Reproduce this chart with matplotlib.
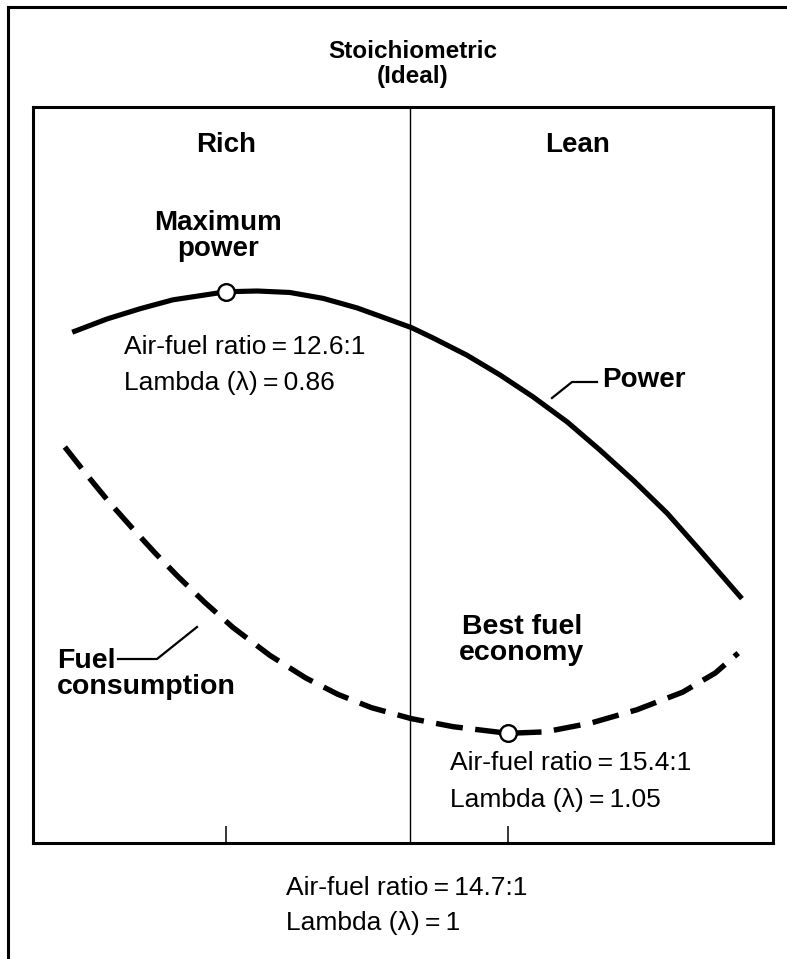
import matplotlib
matplotlib.use("Agg")
import matplotlib.pyplot as plt
from matplotlib.lines import Line2D

plt.rcParams["font.family"] = ["Liberation Sans", "DejaVu Sans"]

W, H = 787, 959

# Relative position across the mixture range (0 = richest, 100 = leanest)
power_x = [5.3, 10.0, 14.5, 18.9, 23.5, 26.1, 30.3, 34.7, 39.2, 43.8, 48.2, 51.2,
           54.1, 58.6, 63.1, 67.6, 72.2, 76.6, 81.1, 85.7, 90.1, 95.8]
# Relative engine power
power_y = [69.4, 71.2, 72.6, 73.8, 74.5, 74.9, 75.0, 74.8, 74.0, 72.7, 71.1, 70.0,
           68.6, 66.3, 63.6, 60.6, 57.2, 53.4, 49.3, 44.8, 39.8, 33.2]

fuel_x = [4.3, 7.2, 10.3, 13.4, 16.5, 19.6, 23.2, 27.0, 32.0, 36.9, 41.2, 45.7,
          51.1, 56.8, 64.2, 69.2, 75.4, 81.6, 87.8, 92.2, 95.3]
# Relative fuel consumption
fuel_y = [53.8, 50.1, 46.3, 42.8, 39.4, 36.2, 32.7, 29.3, 25.5, 22.4, 20.2, 18.4,
          16.9, 15.8, 14.9, 15.1, 16.3, 18.1, 20.5, 23.1, 25.8]

max_power_pt = (26.1, 74.9)     # AFR 12.6:1, lambda 0.86
best_economy_pt = (64.2, 14.9)  # AFR 15.4:1, lambda 1.05
stoich_x = 50.9                 # AFR 14.7:1, lambda 1

tick_positions = [max_power_pt[0], best_economy_pt[0]]
tick_labels = ["", ""]

fig = plt.figure(figsize=(W / 100, H / 100), dpi=100)
fig.patch.set_facecolor("white")

# Plot frame
left, right, top, bottom = 33, 773, 107, 843
ax = fig.add_axes([left / W, 1 - bottom / H, (right - left) / W, (bottom - top) / H])
ax.set_xlim(0, 100)
ax.set_ylim(0, 100)
for s in ax.spines.values():
    s.set_linewidth(2.2)
ax.set_yticks([])
ax.set_xticks(tick_positions)
ax.set_xticklabels(tick_labels)
ax.tick_params(axis="x", direction="in", length=12, width=1.1, color="black")

ax.axvline(stoich_x, color="black", lw=1.0)

ax.plot(power_x, power_y, color="black", lw=3.7, solid_capstyle="butt",
        solid_joinstyle="round")
ax.plot(fuel_x, fuel_y, color="black", lw=3.9, dashes=(5.0, 2.3),
        dash_capstyle="butt", dash_joinstyle="round")

for pt in (max_power_pt, best_economy_pt):
    ax.plot(*pt, marker="o", ms=12, mfc="white", mec="black", mew=1.7, zorder=5)


def fig_xy(x, y):
    return x / W, 1 - y / H


def put(x, y, s, size, weight="normal", ha="center", va="center", ls=1.2):
    fx, fy = fig_xy(x, y)
    fig.text(fx, fy, s, fontsize=size, fontweight=weight, ha=ha, va=va,
             linespacing=ls, color="black")


# Outer border (left and top edges)
fig.add_artist(Line2D([8 / W, 8 / W], [0, 1 - 7 / H], transform=fig.transFigure,
                      color="black", lw=2.2))
fig.add_artist(Line2D([8 / W, 1], [1 - 7 / H, 1 - 7 / H], transform=fig.transFigure,
                      color="black", lw=2.2))

EQ = "\u2009=\u2009"

put(413, 64, "Stoichiometric\n(Ideal)", 17.5, "bold", ls=1.15)
put(226, 145, "Rich", 20, "bold")
put(578, 145, "Lean", 20, "bold")

put(218, 236, "Maximum\npower", 20, "bold", ls=1.05)
put(124, 347, "Air-fuel ratio" + EQ + "12.6:1", 19, ha="left")
put(124, 383, "Lambda (λ)" + EQ + "0.86", 19, ha="left")

put(602, 380, "Power", 20, "bold", ha="left")
fig.add_artist(Line2D([552 / W, 572 / W, 597 / W],
                      [1 - 398 / H, 1 - 382 / H, 1 - 382 / H],
                      transform=fig.transFigure, color="black", lw=1.6))

put(522, 640, "Best fuel\neconomy", 20.5, "bold", ls=1.05)
put(450, 763, "Air-fuel ratio" + EQ + "15.4:1", 19, ha="left")
put(450, 800, "Lambda (λ)" + EQ + "1.05", 19, ha="left")

put(57, 674, "Fuel\nconsumption", 20.5, "bold", ha="left", ls=1.05)
fig.add_artist(Line2D([118 / W, 157 / W, 197 / W],
                      [1 - 659 / H, 1 - 659 / H, 1 - 627 / H],
                      transform=fig.transFigure, color="black", lw=1.6))

put(286, 888, "Air-fuel ratio" + EQ + "14.7:1", 19, ha="left")
put(286, 923, "Lambda (λ)" + EQ + "1", 19, ha="left")

fig.savefig("out.png", dpi=100, facecolor="white")
